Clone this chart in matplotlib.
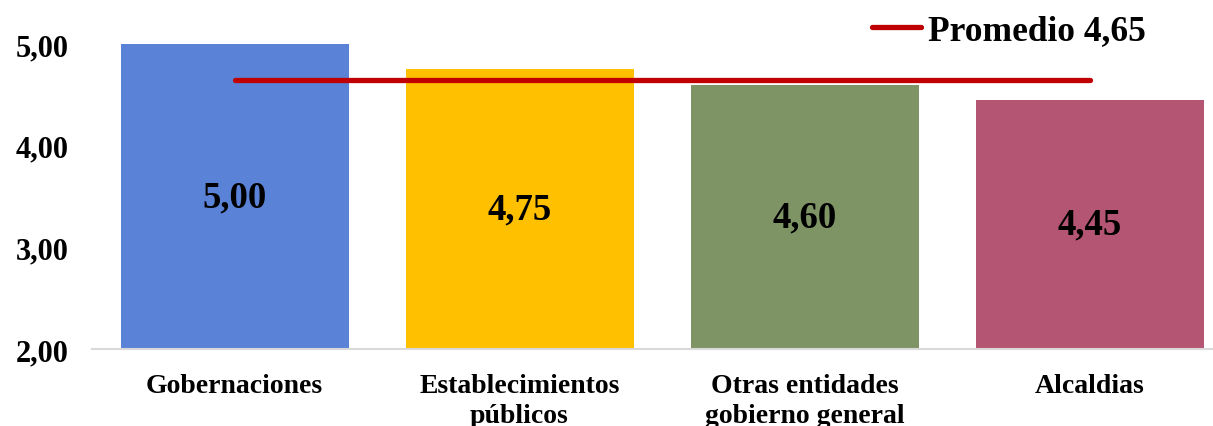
import matplotlib
matplotlib.use("Agg")
from matplotlib import pyplot as plt
from matplotlib.lines import Line2D

plt.rcParams['font.family'] = ['Liberation Serif', 'DejaVu Serif']
plt.rcParams['font.weight'] = 'bold'

categorias = ['Gobernaciones', 'Establecimientos\npúblicos',
              'Otras entidades\ngobierno general', 'Alcaldias']
valores = [5.00, 4.75, 4.60, 4.45]
promedio = 4.65
colores = ['#5A82D6', '#FFC000', '#7F9465', '#B55574']
yticks = [2.0, 3.0, 4.0, 5.0]

fig = plt.figure(figsize=(12.13, 4.27), dpi=100)
ax = fig.add_axes([92 / 1213, 77 / 427, 1140 / 1213, 305 / 427])

x = list(range(len(categorias)))
ax.bar(x, [v - 2.0 for v in valores], bottom=2.0, width=0.8, color=colores)

# etiquetas de valor centradas en cada barra
for xi, v in zip(x, valores):
    ax.text(xi, (2.0 + v) / 2, f'{v:.2f}'.replace('.', ','),
            ha='center', va='center', fontsize=26.5, fontweight='bold')

ax.plot([x[0], x[-1]], [promedio, promedio], color='#C00000', lw=3.8,
        solid_capstyle='round')

ax.set_xlim(-0.5, 3.5)
ax.set_ylim(2.0, 5.0)
ax.set_yticks(yticks)
ax.set_yticklabels([f'{t:.2f}'.replace('.', ',') for t in yticks], fontsize=22)
ax.set_xticks(x)
ax.set_xticklabels(categorias, fontsize=20, linespacing=1.3)
ax.tick_params(axis='both', length=0)
ax.tick_params(axis='y', pad=17)
ax.tick_params(axis='x', pad=17)

for s in ['top', 'right', 'left']:
    ax.spines[s].set_visible(False)
ax.spines['bottom'].set_color('#D9D9D9')
ax.spines['bottom'].set_linewidth(1.5)

leyenda = Line2D([0], [0], color='#C00000', lw=3.8, solid_capstyle='round')
fig.legend([leyenda], [f'Promedio {promedio:.2f}'.replace('.', ',')],
           loc='center', bbox_to_anchor=(1009 / 1213, 1 - 32 / 427),
           frameon=False, fontsize=25.5, handlelength=1.4, handletextpad=0.2,
           borderaxespad=0, borderpad=0)

fig.savefig('out.png', dpi=100)
